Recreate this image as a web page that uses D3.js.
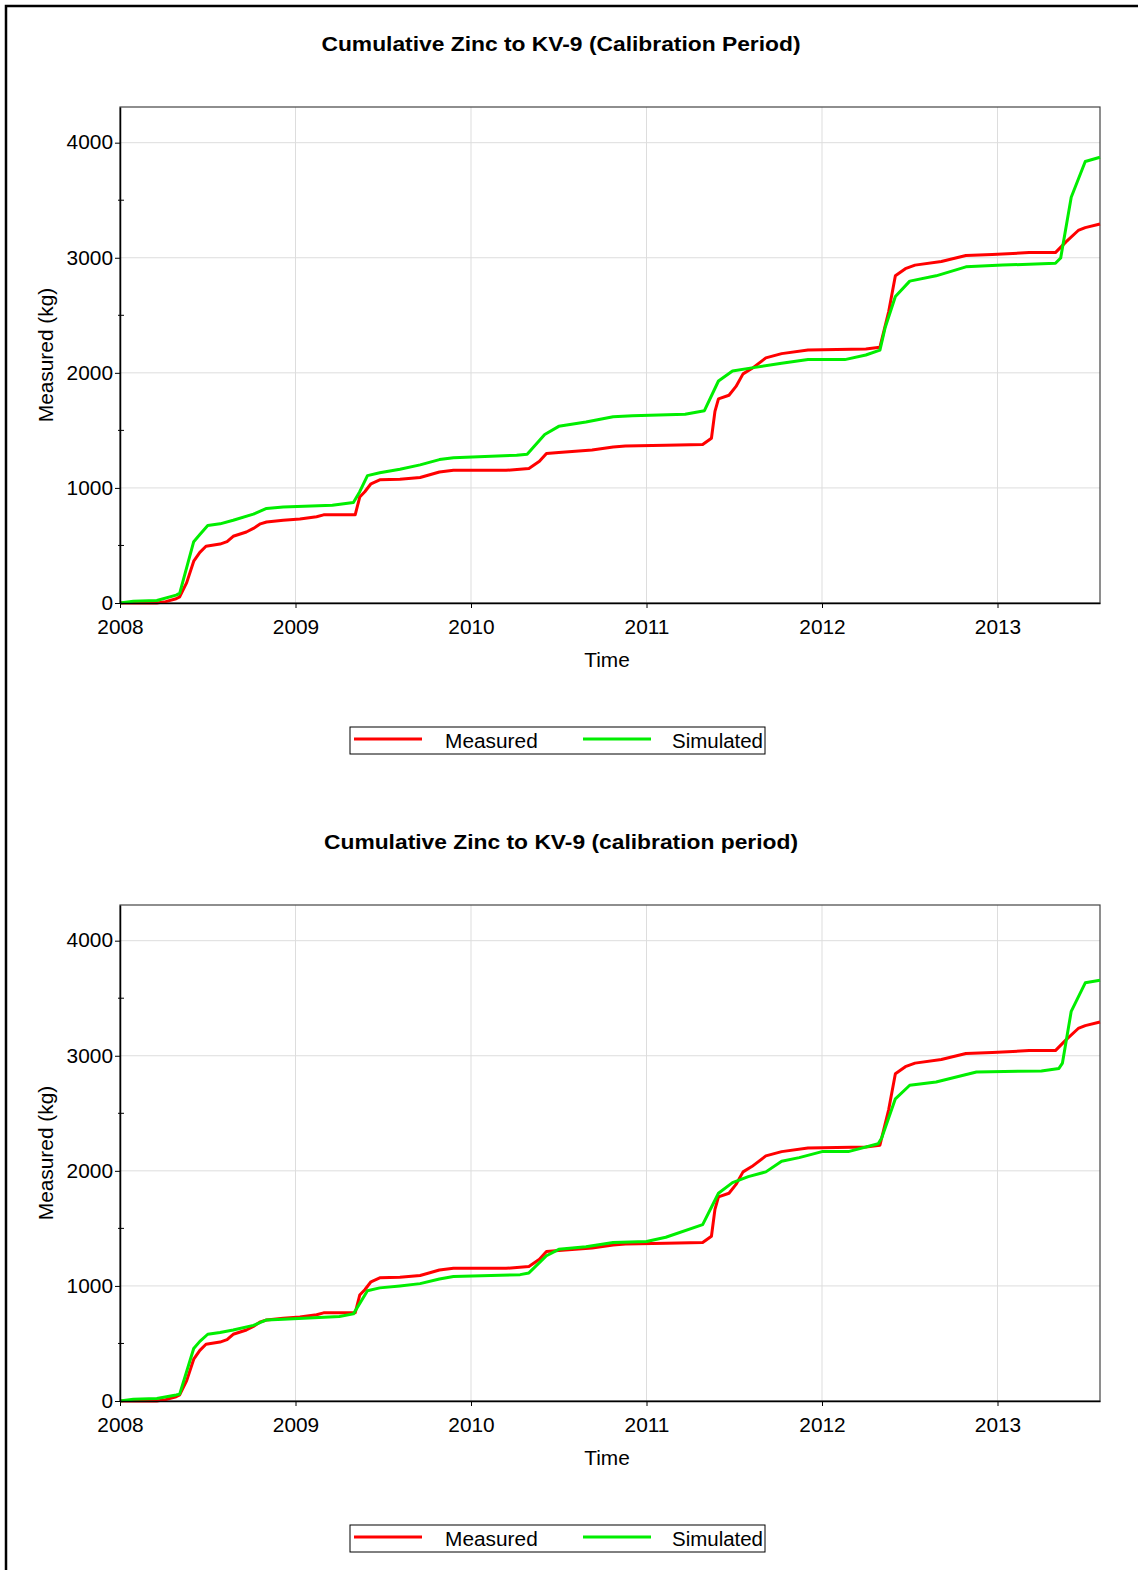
<!DOCTYPE html>
<html>
<head>
<meta charset="utf-8">
<script src="https://cdn.jsdelivr.net/npm/d3@7"></script>
<style>
  body { margin: 0; background: #fff; }
  svg { display: block; font-family: "Liberation Sans", Arial, sans-serif; }
</style>
</head>
<body>
<svg id="chart" width="1138" height="1570"></svg>
<script>
"use strict";

// measured cumulative zinc (same in both panels), decimal years / kg
const measuredT = [2008.0, 2008.21, 2008.26, 2008.32, 2008.34, 2008.38, 2008.42, 2008.455, 2008.49, 2008.57,
  2008.61, 2008.645, 2008.72, 2008.76, 2008.80, 2008.835, 2008.93, 2009.025, 2009.12, 2009.16, 2009.34,
  2009.366, 2009.395, 2009.43, 2009.48, 2009.595, 2009.71, 2009.82, 2009.90, 2010.20, 2010.33, 2010.39,
  2010.43, 2010.50, 2010.69, 2010.81, 2010.88, 2011.11, 2011.32, 2011.37, 2011.39, 2011.41, 2011.47,
  2011.51, 2011.55, 2011.60, 2011.68, 2011.77, 2011.92, 2012.25, 2012.33, 2012.38, 2012.418, 2012.475,
  2012.53, 2012.68, 2012.82, 2012.97, 2013.18, 2013.33, 2013.39, 2013.46, 2013.50, 2013.584];
const measuredV = [0, 0, 12, 37, 53, 177, 363, 440, 493, 512,
  533, 580, 617, 648, 688, 704, 719, 729, 750, 766, 766,
  921, 967, 1036, 1070, 1076, 1091, 1138, 1153, 1153, 1169, 1231,
  1299, 1308, 1330, 1355, 1364, 1370, 1377, 1432, 1665, 1774, 1805,
  1882, 1991, 2037, 2130, 2167, 2198, 2208, 2223, 2533, 2843, 2905,
  2936, 2967, 3020, 3029, 3045, 3045, 3138, 3237, 3262, 3293];

// simulated, first run ("Calibration Period")
const sim1T = [2008.0, 2008.076, 2008.21, 2008.32, 2008.34, 2008.42, 2008.455, 2008.50, 2008.57, 2008.645,
  2008.76, 2008.835, 2008.93, 2009.21, 2009.33, 2009.366, 2009.41, 2009.48, 2009.595, 2009.71, 2009.82,
  2009.90, 2010.26, 2010.32, 2010.42, 2010.50, 2010.655, 2010.81, 2010.92, 2011.22, 2011.33, 2011.41,
  2011.49, 2011.60, 2011.77, 2011.92, 2012.13, 2012.25, 2012.33, 2012.36, 2012.418, 2012.50, 2012.65,
  2012.82, 2013.03, 2013.33, 2013.36, 2013.42, 2013.50, 2013.584];
const sim1V = [0, 15, 22, 68, 84, 533, 595, 673, 688, 719,
  772, 822, 834, 850, 874, 967, 1107, 1132, 1163, 1200, 1246,
  1262, 1284, 1293, 1464, 1535, 1572, 1619, 1628, 1640, 1671, 1929,
  2016, 2043, 2084, 2115, 2115, 2155, 2198, 2394, 2664, 2797, 2843,
  2921, 2936, 2952, 2998, 3526, 3836, 3873];

// simulated, second run ("calibration period")
const sim2T = [2008.0, 2008.076, 2008.21, 2008.32, 2008.34, 2008.42, 2008.455, 2008.50, 2008.57, 2008.645,
  2008.76, 2008.835, 2008.93, 2009.25, 2009.33, 2009.41, 2009.48, 2009.595, 2009.71, 2009.82, 2009.90,
  2010.28, 2010.33, 2010.43, 2010.50, 2010.655, 2010.81, 2011.0, 2011.11, 2011.32, 2011.41, 2011.49,
  2011.58, 2011.68, 2011.77, 2011.87, 2012.0, 2012.15, 2012.32, 2012.34, 2012.418, 2012.50, 2012.65,
  2012.88, 2013.25, 2013.35, 2013.37, 2013.42, 2013.50, 2013.584];
const sim2V = [0, 15, 22, 53, 60, 456, 518, 580, 595, 617,
  657, 704, 710, 735, 757, 958, 983, 1000, 1020, 1060, 1082,
  1098, 1113, 1262, 1318, 1340, 1377, 1386, 1423, 1532, 1805, 1898,
  1950, 1991, 2084, 2115, 2167, 2167, 2236, 2285, 2626, 2744, 2772,
  2859, 2868, 2890, 2936, 3386, 3634, 3656];

const titles = ["Cumulative Zinc to KV-9 (Calibration Period)", "Cumulative Zinc to KV-9 (calibration period)"];
const yearTicks = [2008, 2009, 2010, 2011, 2012, 2013];
const yTicks = [0, 1000, 2000, 3000, 4000];
const yMinorTicks = [500, 1500, 2500, 3500];
const seriesNames = ["Measured", "Simulated"];
const seriesColors = ["#ff0000", "#00ee00"];

const svg = d3.select("#chart");

// outer frame (only the left and top edges fall inside the picture)
svg.append("rect")
  .attr("x", 6).attr("y", 6).attr("width", 1300).attr("height", 1700)
  .attr("fill", "none").attr("stroke", "#000").attr("stroke-width", 2.5);

const panelH = 798;
const left = 120, right = 1100;
const stretch = 1.07; // source font is a little wider than Liberation Sans

// text placed at (x,y), widened horizontally around its anchor
function wideText(parent, x, y, str, size, sx) {
  return parent.append("text")
    .attr("transform", `translate(${x},${y}) scale(${sx},1)`)
    .attr("font-size", size)
    .text(str);
}

function drawPanel(idx, simT, simV) {
  const off = idx * panelH;
  const top = off + 107, bottom = off + 603;
  const g = svg.append("g");

  const x = d3.scaleLinear().domain([2008, 2013.584]).range([left, right]);
  const y = d3.scaleLinear().domain([0, 4310]).range([bottom, top]);

  wideText(g, 561, off + 51, titles[idx], 19.5, 1.17)
    .attr("text-anchor", "middle").attr("font-weight", "bold");

  // grid
  g.append("g").selectAll("line").data(yearTicks.slice(1)).join("line")
    .attr("x1", (d) => x(d)).attr("x2", (d) => x(d))
    .attr("y1", top).attr("y2", bottom)
    .attr("stroke", "#dddddd").attr("stroke-width", 1);
  g.append("g").selectAll("line").data(yTicks.slice(1)).join("line")
    .attr("x1", left).attr("x2", right)
    .attr("y1", (d) => y(d)).attr("y2", (d) => y(d))
    .attr("stroke", "#dddddd").attr("stroke-width", 1);

  // plot frame
  g.append("rect")
    .attr("x", left).attr("y", top).attr("width", right - left).attr("height", bottom - top)
    .attr("fill", "none").attr("stroke", "#444").attr("stroke-width", 1.2);

  const line = d3.line().x((d) => x(d[0])).y((d) => y(d[1]));
  const series = [d3.zip(measuredT, measuredV), d3.zip(simT, simV)];
  g.append("g").selectAll("path").data(series).join("path")
    .attr("d", line)
    .attr("fill", "none")
    .attr("stroke", (d, i) => seriesColors[i])
    .attr("stroke-width", 3)
    .attr("stroke-linejoin", "round");

  // axes
  const xAxis = g.append("g")
    .attr("transform", `translate(0,${bottom})`)
    .call(d3.axisBottom(x).tickValues(yearTicks).tickFormat(d3.format("d"))
      .tickSize(5).tickPadding(12).tickSizeOuter(0));
  const yAxis = g.append("g")
    .attr("transform", `translate(${left},0)`)
    .call(d3.axisLeft(y).tickValues(yTicks).tickFormat(d3.format("d"))
      .tickSize(5).tickPadding(2).tickSizeOuter(0));
  [xAxis, yAxis].forEach((a) => {
    a.select(".domain").attr("stroke", "#000").attr("stroke-width", 1.5);
    a.selectAll(".tick line").attr("stroke", "#000");
    a.selectAll("text").attr("font-size", 19.5).attr("fill", "#000")
      .attr("font-family", "Liberation Sans, Arial, sans-serif");
  });
  xAxis.selectAll("text").attr("transform", `scale(${stretch},1)`);
  yAxis.selectAll("text").attr("transform", `scale(${stretch},1)`)
    .attr("x", -7 / stretch);
  g.append("g").selectAll("line").data(yMinorTicks).join("line")
    .attr("x1", left - 2).attr("x2", left + 4)
    .attr("y1", (d) => y(d)).attr("y2", (d) => y(d))
    .attr("stroke", "#000");

  wideText(g, 607, off + 667, "Time", 19.5, stretch)
    .attr("text-anchor", "middle");
  g.append("text")
    .attr("transform", `translate(46,${(top + bottom) / 2}) rotate(-90) scale(${stretch},1)`)
    .attr("text-anchor", "middle").attr("dominant-baseline", "central")
    .attr("font-size", 19.5)
    .text("Measured (kg)");

  // legend
  const lg = g.append("g").attr("transform", `translate(350,${off + 727})`);
  lg.append("rect").attr("width", 415).attr("height", 27)
    .attr("fill", "#fff").attr("stroke", "#000").attr("stroke-width", 1);
  seriesNames.forEach((name, i) => {
    const dx = i * 229;
    lg.append("line")
      .attr("x1", 4 + dx).attr("x2", 72 + dx).attr("y1", 12).attr("y2", 12)
      .attr("stroke", seriesColors[i]).attr("stroke-width", 3);
    wideText(lg, 95 + dx - i * 2, 21, name, 19.5, stretch - i * 0.02);
  });
}

drawPanel(0, sim1T, sim1V);
drawPanel(1, sim2T, sim2V);
</script>
</body>
</html>
